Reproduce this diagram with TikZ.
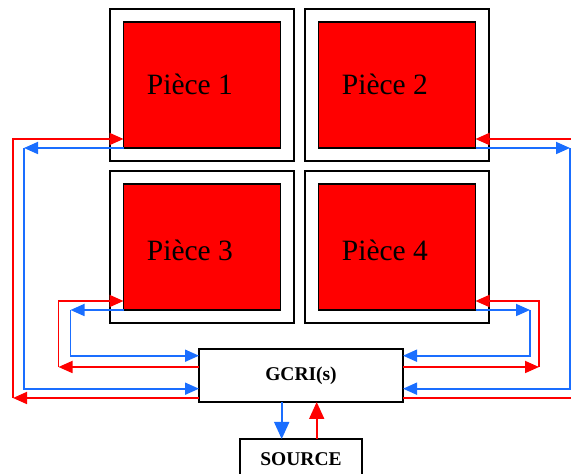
\documentclass[tikz,border=0pt]{standalone}
\usepackage{fontspec}
\setmainfont{Liberation Serif}
\usepackage{xcolor}
\usetikzlibrary{arrows.meta,positioning,calc}
\definecolor{Hot}{HTML}{FF0000}
\definecolor{Cold}{HTML}{1A6EFF}

\begin{document}
\begin{tikzpicture}[x=1pt,y=1pt,>={Triangle[length=14pt,width=12pt]},
  room/.style={draw,line width=1.3pt,minimum width=184pt,minimum height=152pt,inner sep=0pt,outer sep=0pt},
  zone/.style={draw,fill=red,line width=1.4pt,minimum width=157pt,minimum height=126pt,inner sep=0pt,outer sep=0pt},
  unit/.style={draw,line width=2pt,fill=white,inner sep=0pt,outer sep=0pt,font=\fontsize{19.5}{22}\selectfont\bfseries},
  hot/.style={draw=Hot,line width=1.8pt},
  cold/.style={draw=Cold,line width=1.8pt},
  feed/.style={-{Triangle[length=17pt,width=15pt]}},
  lbl/.style={anchor=base west,inner sep=0pt,font=\fontsize{29.5}{32}\selectfont}]
  \useasboundingbox (0,0) rectangle (571,474);
  % rooms
  \node[room] (o1) at (202,389) {};
  \node[room,right=11pt of o1] (o2) {};
  \node[room,below=10pt of o1] (o3) {};
  \node[room,right=11pt of o3] (o4) {};
  \node[zone] (r1) at (o1.center) {};
  \node[zone] (r2) at (o2.center) {};
  \node[zone] (r3) at (o3.center) {};
  \node[zone] (r4) at (o4.center) {};
  \node[lbl] (t1) at ($(r1.center)+(-55.3,-10)$) {Pièce 1};
  \node[lbl] (t2) at ($(r2.center)+(-55.3,-10)$) {Pièce 2};
  \node[lbl] (t3) at ($(r3.center)+(-55.3,-14)$) {Pièce 3};
  \node[lbl] (t4) at ($(r4.center)+(-55.3,-14)$) {Pièce 4};
  % controller and source
  \node[unit,minimum width=204pt,minimum height=53pt] (g) at (301,98.5) {GCRI(s)};
  \node[unit,minimum width=122pt,minimum height=40pt,below=37pt of g] (s) {SOURCE};
  \draw[cold,feed] ($(g.south)+(-19.3,0)$) -- ($(s.north)+(-19.3,0)$);
  \draw[hot,feed] ($(s.north)+(15.7,0)$) -- ($(g.south)+(15.7,0)$);
  % corners of the loops
  \coordinate (hl1) at (13,76);   \coordinate (cl1) at (24,326);
  \coordinate (hl3) at (58.5,107); \coordinate (cl3) at (70.5,164);
  \coordinate (hr2) at (592,76);  \coordinate (cr2) at (570,326);
  \coordinate (hr4) at (539,107); \coordinate (cr4) at (530,164);
  % left side
  \draw[hot,->] ($(g.north west)+(0,-49)$) -- (hl1);
  \draw[hot,->] (hl1) |- ($(r1.south west)+(0,9)$);
  \draw[cold,->] (r1.south west) -- (cl1);
  \draw[cold,->] (cl1) |- ($(g.north west)+(0,-39.7)$);
  \draw[hot,->] ($(g.north west)+(0,-18)$) -- (hl3);
  \draw[hot,->] (hl3) |- ($(r3.south west)+(0,9)$);
  \draw[cold,->] (r3.south west) -- (cl3);
  \draw[cold,->] (cl3) |- ($(g.north west)+(0,-6.7)$);
  % right side
  \draw[hot,->] ($(g.north east)+(0,-49)$) -- (hr2);
  \draw[hot,->] (hr2) |- ($(r2.south east)+(0,9)$);
  \draw[cold,->] (r2.south east) -- (cr2);
  \draw[cold,->] (cr2) |- ($(g.north east)+(0,-39.7)$);
  \draw[hot,->] ($(g.north east)+(0,-18)$) -- (hr4);
  \draw[hot,->] (hr4) |- ($(r4.south east)+(0,9)$);
  \draw[cold,->] (r4.south east) -- (cr4);
  \draw[cold,->] (cr4) |- ($(g.north east)+(0,-6.7)$);
\end{tikzpicture}
\end{document}
